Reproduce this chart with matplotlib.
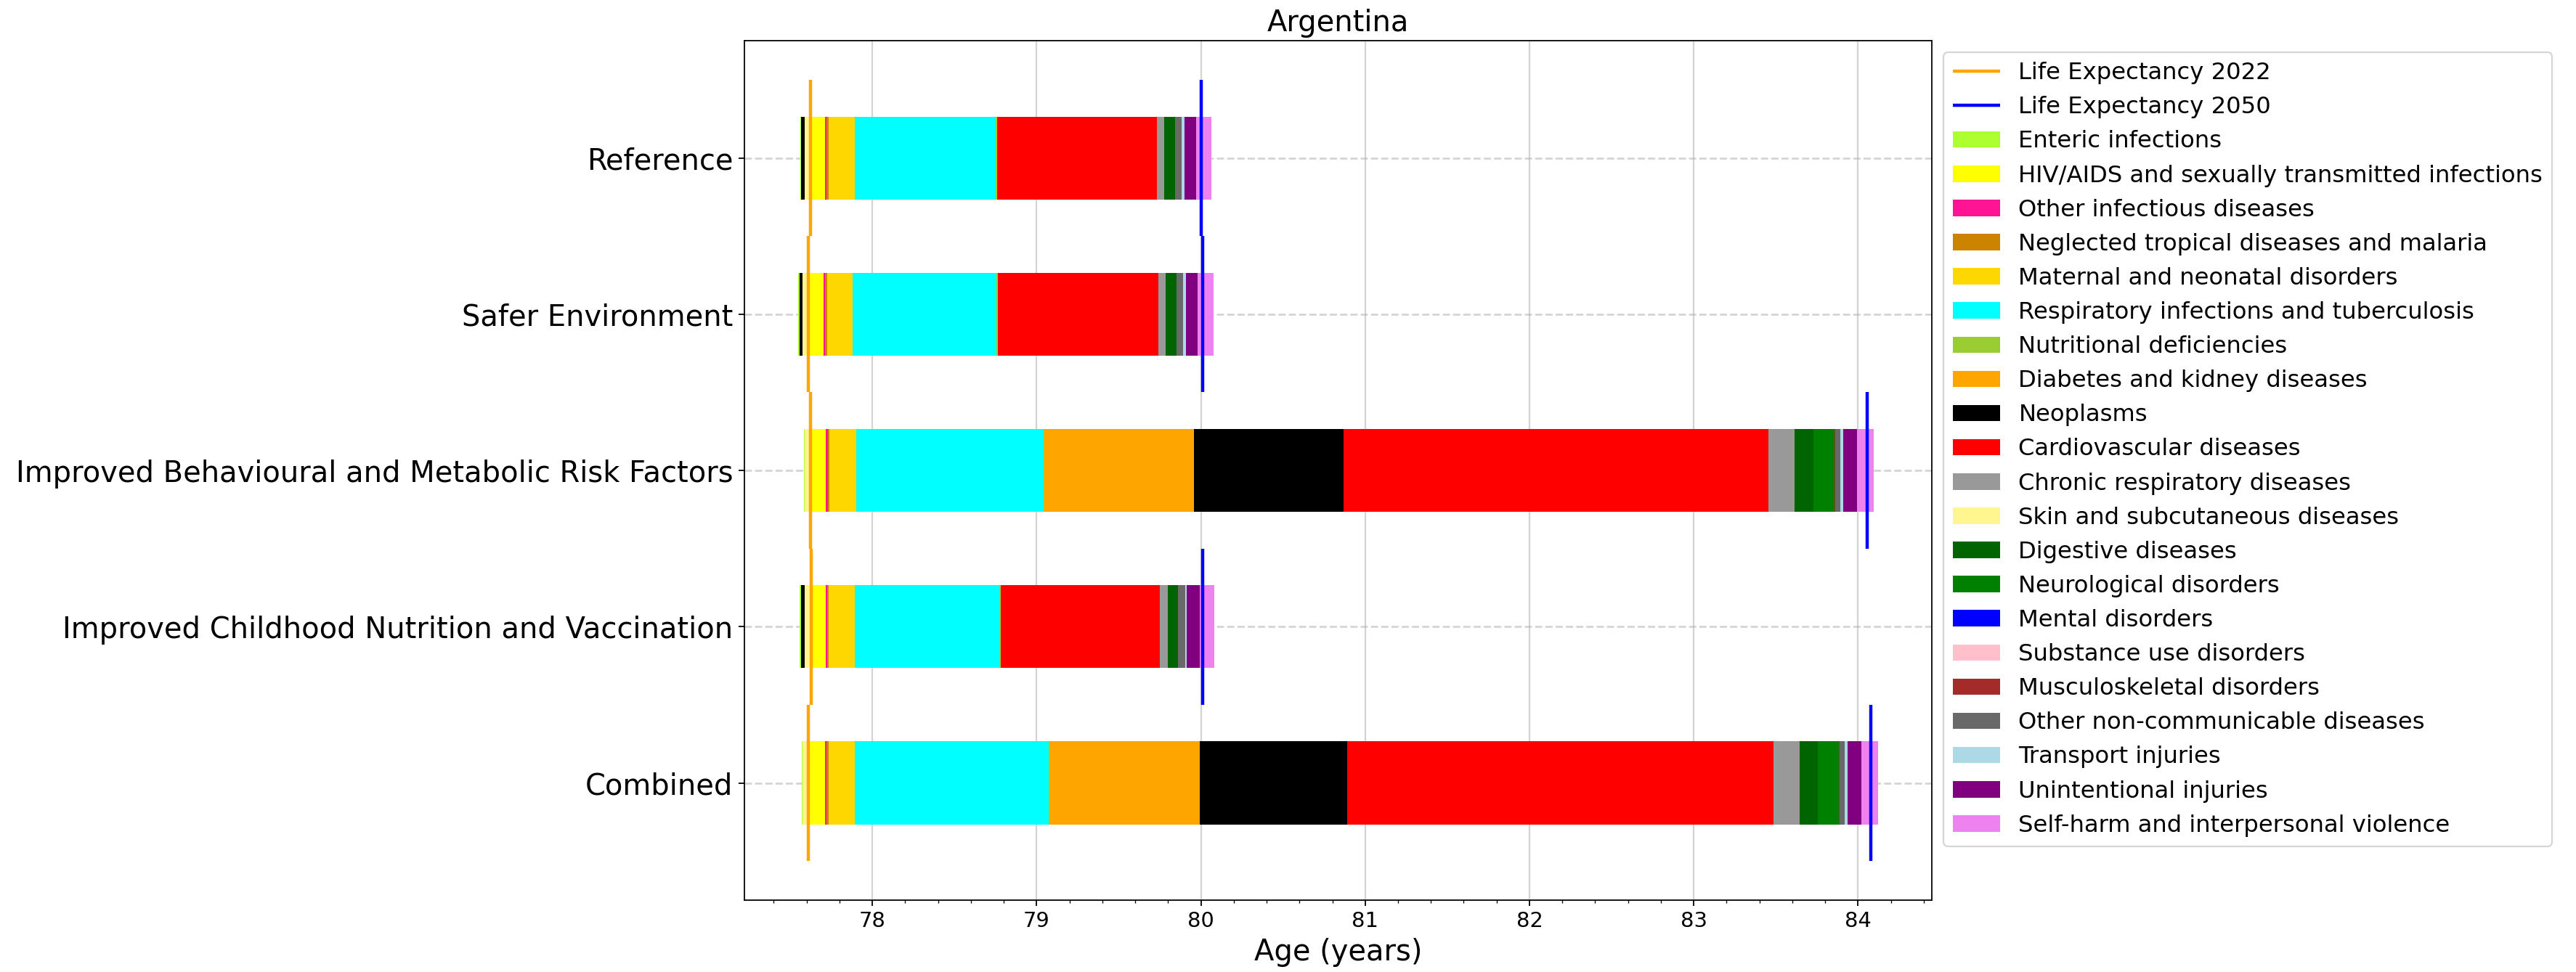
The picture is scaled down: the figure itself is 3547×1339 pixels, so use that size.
import numpy as np
import matplotlib
matplotlib.use('Agg')
import matplotlib.pyplot as plt
from matplotlib.ticker import AutoMinorLocator

scenarios = ['Reference', 'Safer Environment',
             'Improved Behavioural and Metabolic Risk Factors',
             'Improved Childhood Nutrition and Vaccination', 'Combined']

causes = ['Enteric infections', 'HIV/AIDS and sexually transmitted infections',
          'Other infectious diseases', 'Neglected tropical diseases and malaria',
          'Maternal and neonatal disorders', 'Respiratory infections and tuberculosis',
          'Nutritional deficiencies', 'Diabetes and kidney diseases', 'Neoplasms',
          'Cardiovascular diseases', 'Chronic respiratory diseases',
          'Skin and subcutaneous diseases', 'Digestive diseases',
          'Neurological disorders', 'Mental disorders', 'Substance use disorders',
          'Musculoskeletal disorders', 'Other non-communicable diseases',
          'Transport injuries', 'Unintentional injuries',
          'Self-harm and interpersonal violence']

colors = ['greenyellow', 'yellow', 'deeppink', '#CC8400', 'gold', 'cyan',
          'yellowgreen', 'orange', 'black', 'red', '#999999', '#FFF68F',
          'darkgreen', 'green', 'blue', 'pink', 'brown', 'dimgray',
          'lightblue', 'purple', 'violet']

# life expectancy lines
le_2022 = [77.625, 77.612, 77.624, 77.627, 77.612]
le_2050 = [80.002, 80.010, 84.055, 80.011, 84.080]

# years gained (lost) per cause, in the order of `causes`
ref_vals = [-0.005, 0.087, 0.009, 0.013, 0.159, 0.857, 0.008, 0.0, -0.020, 0.975, 0.045,
            -0.038, 0.065, 0.0, 0.0, 0.0, 0.0, 0.040, 0.017, 0.072, 0.092]
safer_vals = [-0.006, 0.092, 0.009, 0.012, 0.154, 0.875, 0.008, 0.0, -0.017, 0.981, 0.043,
              -0.039, 0.066, 0.0, 0.0, 0.0, 0.0, 0.040, 0.017, 0.071, 0.097]
behav_vals = [-0.004, 0.092, 0.013, 0.008, 0.166, 1.139, 0.005, 0.911, 0.912, 2.586, 0.159,
              -0.036, 0.115, 0.127, 0.0, 0.0, 0.003, 0.033, 0.017, 0.084, 0.102]
child_vals = [-0.005, 0.088, 0.009, 0.010, 0.159, 0.880, 0.007, 0.0, -0.023, 0.969, 0.051,
              -0.040, 0.060, 0.0, 0.0, 0.0, 0.0, 0.043, 0.012, 0.077, 0.091]
comb_vals = [-0.004, 0.100, 0.009, 0.013, 0.159, 1.182, 0.004, 0.915, 0.896, 2.597, 0.160,
             -0.039, 0.109, 0.129, 0.0, 0.0, 0.003, 0.031, 0.018, 0.084, 0.101]

values = np.array([ref_vals, safer_vals, behav_vals, child_vals, comb_vals])

n_s = len(scenarios)
y = np.arange(n_s)[::-1]

# positive contributions stack to the right of LE 2022, negative ones to the left
lefts = np.zeros_like(values)
widths = np.abs(values)
for i in range(n_s):
    pos = le_2022[i]
    for j in range(len(causes)):
        if values[i, j] >= 0:
            lefts[i, j] = pos
            pos += values[i, j]
    neg = le_2022[i]
    for j in reversed(range(len(causes))):
        if values[i, j] < 0:
            neg += values[i, j]
            lefts[i, j] = neg

fig, ax = plt.subplots(figsize=(3547 / 160, 1339 / 160), dpi=160)
fig.subplots_adjust(left=0.289, right=0.750, top=0.958, bottom=0.074)
ax.use_sticky_edges = False

l1 = ax.vlines(le_2022, y - 0.5, y + 0.5, colors='orange', linewidth=2,
               label='Life Expectancy 2022', zorder=3)
l2 = ax.vlines(le_2050, y - 0.5, y + 0.5, colors='blue', linewidth=2,
               label='Life Expectancy 2050', zorder=3)

handles = [l1, l2]
for j, cause in enumerate(causes):
    b = ax.barh(y, widths[:, j], left=lefts[:, j], height=0.53,
                color=colors[j], label=cause, zorder=2)
    handles.append(b)

ax.set_yticks(y)
ax.set_yticklabels(scenarios, fontsize=18)
ax.set_xlabel('Age (years)', fontsize=18)
ax.set_title('Argentina', fontsize=18)
ax.xaxis.set_minor_locator(AutoMinorLocator())
ax.tick_params(axis='x', labelsize=13)
ax.grid(axis='x', color='#b0b0b0', alpha=0.55, linewidth=1.0)
ax.grid(axis='y', color='#b0b0b0', alpha=0.55, linestyle='--', linewidth=1.2)
ax.set_axisbelow(True)

ax.legend(handles=handles, loc='upper left', bbox_to_anchor=(1, 1), fontsize=14.5)

fig.savefig('out.png', dpi=160)
